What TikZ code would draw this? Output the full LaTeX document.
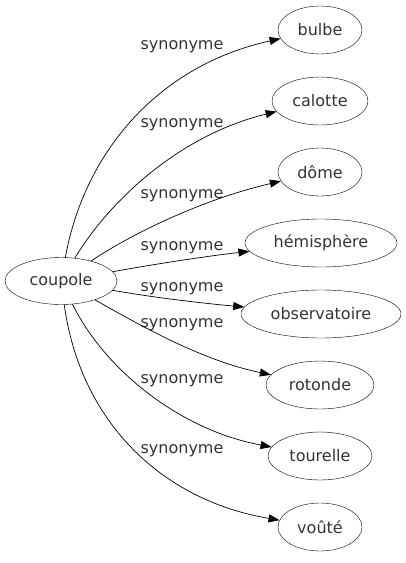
\documentclass[tikz,border=0pt]{standalone}
\usepackage{fontspec}
\setmainfont{DejaVu Sans}
\usetikzlibrary{shapes.geometric,arrows.meta}
\definecolor{txt}{HTML}{333333}
\begin{document}
\begin{tikzpicture}[x=1pt,y=-1pt,
  word/.style={draw,ellipse,inner sep=0pt,minimum height=48pt,text=txt,font=\fontsize{16}{18}\selectfont},
  lab/.style={font=\fontsize{16}{18}\selectfont,text=txt,inner sep=0pt},
  syn/.style={-{Triangle[length=11pt,width=8pt]},line width=0.7pt}]
\useasboundingbox (0,0) rectangle (406,563);
\node[word,minimum width=112pt,minimum height=47pt] (c) at (61,281) {coupole};
\node[word,minimum width=84pt] (b) at (320,30) {bulbe};
\node[word,minimum width=96pt] (ca) at (320,101) {calotte};
\node[word,minimum width=84pt] (d) at (320,172) {dôme};
\node[word,minimum width=152pt] (h) at (321,243) {hémisphère};
\node[word,minimum width=160pt] (o) at (321,314) {observatoire};
\node[word,minimum width=108pt] (r) at (320,385) {rotonde};
\node[word,minimum width=104pt] (t) at (320,456) {tourelle};
\node[word,minimum width=84pt] (v) at (320,527) {voûté};
\node[lab] (l1) at (182,47) {synonyme};
\node[lab] (l2) at (182,125) {synonyme};
\node[lab] (l3) at (182,196) {synonyme};
\node[lab] (l4) at (182,248) {synonyme};
\node[lab] (l5) at (182,289) {synonyme};
\node[lab] (l6) at (182,325) {synonyme};
\node[lab] (l7) at (182,381) {synonyme};
\node[lab] (l8) at (182,451) {synonyme};
\draw[syn] (c) .. controls (85,150) and (160,65) .. (b);
\draw[syn] (c) .. controls (110,200) and (180,135) .. (ca);
\draw[syn] (c) .. controls (130,235) and (200,200) .. (d);
\draw[syn] (c) .. controls (150,265) and (200,257) .. (h);
\draw[syn] (c) .. controls (150,297) and (200,303) .. (o);
\draw[syn] (c) .. controls (140,325) and (200,360) .. (r);
\draw[syn] (c) .. controls (105,370) and (180,430) .. (t);
\draw[syn] (c) .. controls (80,420) and (160,500) .. (v);
\end{tikzpicture}
\end{document}
